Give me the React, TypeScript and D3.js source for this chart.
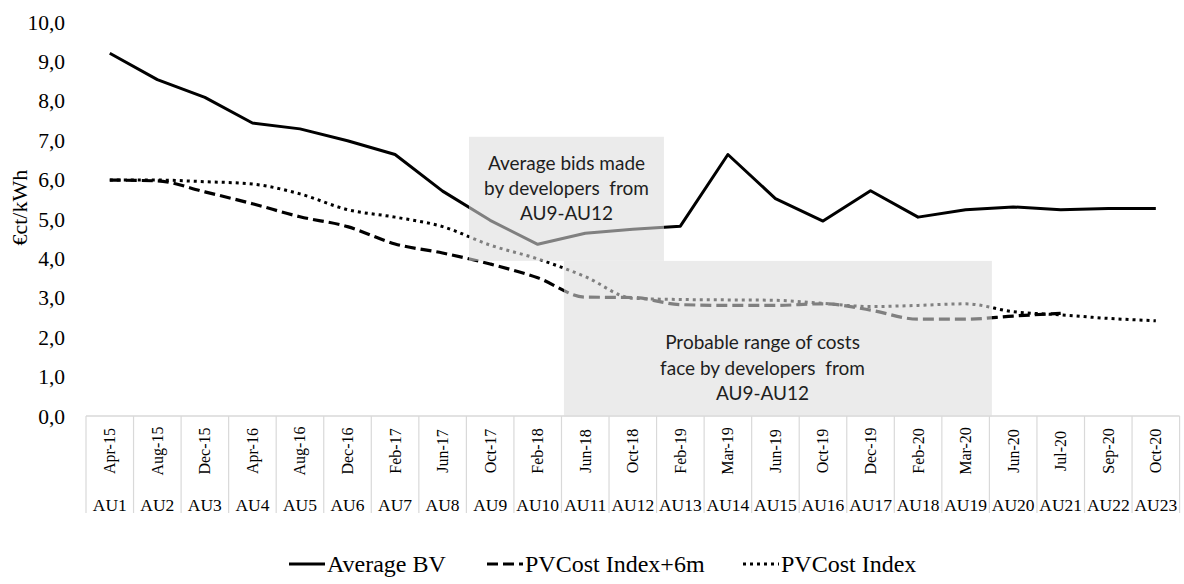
import React from "react";
import * as d3 from "d3";

const auctions = ["AU1","AU2","AU3","AU4","AU5","AU6","AU7","AU8","AU9","AU10","AU11","AU12","AU13","AU14","AU15","AU16","AU17","AU18","AU19","AU20","AU21","AU22","AU23"];
const dates = ["Apr-15","Aug-15","Dec-15","Apr-16","Aug-16","Dec-16","Feb-17","Jun-17","Oct-17","Feb-18","Jun-18","Oct-18","Feb-19","Mar-19","Jun-19","Oct-19","Dec-19","Feb-20","Mar-20","Jun-20","Jul-20","Sep-20","Oct-20"];
const averageBV = [9.22, 8.55, 8.1, 7.45, 7.3, 7.0, 6.65, 5.72, 4.98, 4.37, 4.65, 4.75, 4.83, 6.65, 5.53, 4.96, 5.73, 5.06, 5.25, 5.32, 5.25, 5.28, 5.28];
const pvCostIndex6m: (number | null)[] = [6.0, 5.98, 5.7, 5.4, 5.07, 4.82, 4.38, 4.15, 3.87, 3.52, 3.03, 3.02, 2.84, 2.82, 2.82, 2.86, 2.7, 2.47, 2.47, 2.55, 2.62, null, null];
const pvCostIndex = [6.0, 6.0, 5.96, 5.9, 5.65, 5.25, 5.06, 4.82, 4.35, 4.0, 3.55, 3.0, 2.97, 2.96, 2.95, 2.87, 2.79, 2.82, 2.86, 2.66, 2.58, 2.49, 2.43];
const yTicks = [0, 1, 2, 3, 4, 5, 6, 7, 8, 9, 10];
const seriesNames = ["Average BV", "PVCost Index+6m", "PVCost Index"];
const box1Text = ["Average bids made", "by developers  from", "AU9-AU12"];
const box2Text = ["Probable range of costs", "face by developers  from", "AU9-AU12"];

export default function App() {
  const W = 1184, H = 584;
  const x = d3.scaleBand<string>().domain(auctions).range([86, 1179.6]).padding(0);
  const bw = x.bandwidth();
  const y = d3.scaleLinear().domain([0, 10]).range([416.5, 22.5]);
  const cx = (i: number) => (x(auctions[i]) as number) + bw / 2;
  const fmt = (v: number) => d3.format(".1f")(v).replace(".", ",");

  const lineLinear = d3.line<number | null>()
    .defined((d) => d != null)
    .x((_, i) => cx(i))
    .y((d) => y(d as number));
  const lineSmooth = d3.line<number | null>()
    .defined((d) => d != null)
    .x((_, i) => cx(i))
    .y((d) => y(d as number))
    .curve(d3.curveMonotoneX);

  const serif = "Liberation Serif, Times New Roman, serif";
  const sans = "Lato, Open Sans, sans-serif";
  const grid = "#d9d9d9";

  // annotation boxes anchored to band edges and values
  const b1x0 = (x("AU9") as number) + 2.6;
  const b1x1 = (x("AU13") as number) + 7.4;
  const b2x0 = (x("AU11") as number) + 2.5;
  const b2x1 = (x("AU20") as number) + 2.5;
  const b1y0 = y(7.1), b1y1 = y(3.95), b2y1 = y(0);

  const legend = [
    { name: seriesNames[0], x: 289, dash: "none" },
    { name: seriesNames[1], x: 487, dash: "11 5" },
    { name: seriesNames[2], x: 743, dash: "3 4" },
  ];

  return (
    <svg width={W} height={H} style={{ position: "absolute", left: 0, top: 0, background: "#fff" }}>
      {yTicks.map((t) => (
        <text key={t} x={65} y={y(t)} dy="0.33em" textAnchor="end" fontFamily={serif} fontSize={21.5} fill="#000">
          {fmt(t)}
        </text>
      ))}
      <text transform={`translate(27,${y(5.3)}) rotate(-90)`} textAnchor="middle" fontFamily={serif} fontSize={22} fill="#000">
        €ct/kWh
      </text>

      <line x1={86} x2={1179.6} y1={416} y2={416} stroke={grid} strokeWidth={1.5} />
      {auctions.map((a) => (
        <line key={"s" + a} x1={x(a) as number} x2={x(a) as number} y1={416} y2={513} stroke={grid} strokeWidth={1.2} />
      ))}
      <line x1={1179.6} x2={1179.6} y1={416} y2={513} stroke={grid} strokeWidth={1.2} />
      {dates.map((d, i) => (
        <text key={d + i} transform={`translate(${cx(i) + 5.5},451) rotate(-90)`} textAnchor="middle" fontFamily={serif} fontSize={16} fill="#000">
          {d}
        </text>
      ))}
      {auctions.map((a, i) => (
        <text key={"a" + a} x={cx(i)} y={511} textAnchor="middle" fontFamily={serif} fontSize={17.5} fill="#000">
          {a}
        </text>
      ))}

      <path d={lineLinear(averageBV) || ""} fill="none" stroke="#000" strokeWidth={3} strokeLinejoin="round" />
      <path d={lineSmooth(pvCostIndex6m) || ""} fill="none" stroke="#000" strokeWidth={3.2} strokeDasharray="11 5" />
      <path d={lineSmooth(pvCostIndex) || ""} fill="none" stroke="#000" strokeWidth={3} strokeDasharray="3 4" />

      <rect x={b1x0} y={b1y0} width={b1x1 - b1x0} height={b1y1 - b1y0} fill="rgb(220,220,220)" fillOpacity={0.58} />
      <rect x={b2x0} y={b1y1} width={b2x1 - b2x0} height={b2y1 - b1y1} fill="rgb(220,220,220)" fillOpacity={0.58} />
      {box1Text.map((t, i) => (
        <text key={"b1" + i} x={(b1x0 + b1x1) / 2} y={163 + i * 25.3} dy="0.35em" textAnchor="middle" fontFamily={sans} fontSize={19} fill="#1e1e1e" style={{ whiteSpace: "pre" }}>
          {t}
        </text>
      ))}
      {box2Text.map((t, i) => (
        <text key={"b2" + i} x={762.5} y={342.7 + i * 25.3} dy="0.35em" textAnchor="middle" fontFamily={sans} fontSize={19} fill="#1e1e1e" style={{ whiteSpace: "pre" }}>
          {t}
        </text>
      ))}

      {legend.map((l) => (
        <g key={l.name}>
          <line x1={l.x} x2={l.x + 36} y1={564} y2={564} stroke="#000" strokeWidth={3} strokeDasharray={l.dash} />
          <text x={l.x + 38} y={572} fontFamily={serif} fontSize={24} fill="#000">
            {l.name}
          </text>
        </g>
      ))}
    </svg>
  );
}
